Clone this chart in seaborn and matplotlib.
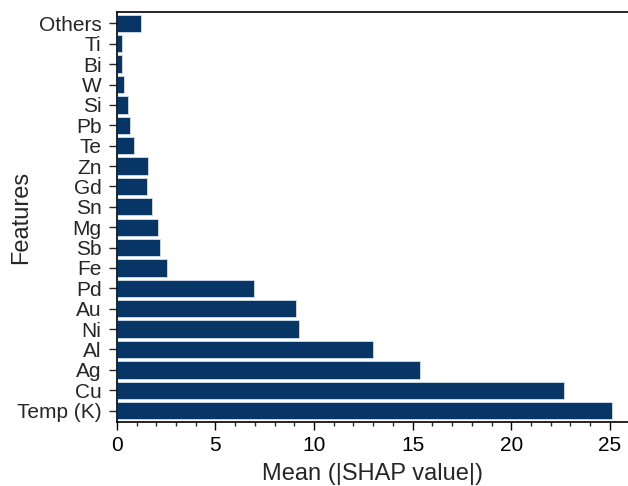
import matplotlib
matplotlib.use("Agg")
import matplotlib.pyplot as plt
import seaborn as sns
import pandas as pd
from matplotlib.ticker import MultipleLocator

features = ["Others", "Ti", "Bi", "W", "Si", "Pb", "Te", "Zn", "Gd", "Sn", "Mg",
            "Sb", "Fe", "Pd", "Au", "Ni", "Al", "Ag", "Cu", "Temp (K)"]
values = [1.25, 0.24, 0.27, 0.39, 0.57, 0.67, 0.89, 1.56, 1.55, 1.80, 2.11,
          2.21, 2.55, 6.97, 9.10, 9.24, 12.97, 15.37, 22.69, 25.09]

df = pd.DataFrame({"Features": features, "Mean": values})

sns.set_theme(style="white")
plt.rcParams['font.family'] = ['Liberation Sans', 'DejaVu Sans']

fig = plt.figure(figsize=(6.28, 4.86), dpi=100)
ax = fig.add_axes([0.186, 0.132, 0.814, 0.843])

sns.barplot(data=df, x="Mean", y="Features", order=features, color="#063566",
            saturation=1, width=0.85, edgecolor="#cfe0f0", linewidth=0.6, ax=ax)

ax.set_xlim(0, 25.92)
ax.set_ylim(19.55, -0.55)
ax.xaxis.set_major_locator(MultipleLocator(5))
ax.xaxis.set_minor_locator(MultipleLocator(1))
ax.tick_params(axis='x', which='major', direction='out', length=6, width=1, labelsize=15, bottom=True, colors='black', pad=4)
ax.tick_params(axis='x', which='minor', direction='out', length=3, width=1, bottom=True)
ax.tick_params(axis='y', which='major', direction='out', length=6, width=1, labelsize=15, left=True, pad=5)
ax.set_xlabel("Mean (|SHAP value|)", fontsize=17, labelpad=6)
ax.set_ylabel("Features", fontsize=17)
ax.yaxis.set_label_coords(-0.166, 0.5)

for s in ["left", "bottom", "top"]:
    ax.spines[s].set_visible(True)
    ax.spines[s].set_color("black")
    ax.spines[s].set_linewidth(1.2)
ax.spines["right"].set_visible(False)

fig.savefig("out.png", dpi=100)
